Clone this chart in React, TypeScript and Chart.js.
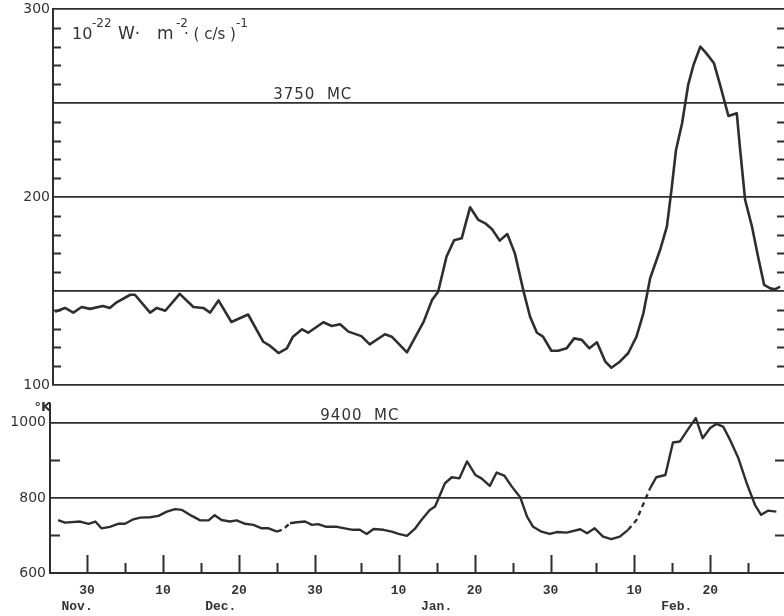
import { useEffect, useRef } from "react";
import { Chart, registerables } from "chart.js";

Chart.register(...registerables);

// ---- Data (days counted from Nov 30 = 0) ----
const flux3750Days = [
  -4.2, -2.9, -1.8, -0.7, 0.4, 2.1, 3.0, 3.9, 5.7, 6.3, 8.3, 9.2, 10.3, 12.2, 14.0, 15.3,
  16.2, 17.3, 19.0, 21.2, 23.2, 24.1, 25.2, 26.3, 27.1, 28.3, 29.1, 31.1, 32.2, 33.3, 34.4,
  36.1, 37.2, 39.2, 40.1, 42.1, 44.3, 45.4, 46.2, 47.3, 48.3, 49.3, 50.4, 51.5, 52.4, 53.3,
  54.3, 55.3, 56.3, 57.4, 58.3, 59.2, 60.0, 61.1, 62.0, 63.1, 64.1, 65.1, 66.1, 67.1, 68.2,
  69.0, 70.1, 71.2, 72.3, 73.2, 74.1, 75.4, 76.3, 76.9, 77.5, 78.3, 79.1, 79.8, 80.7, 81.5,
  82.5, 83.3, 84.4, 85.5, 85.9, 86.6, 87.5, 88.3, 89.1, 89.9, 90.5, 91.2,
];
const flux3750 = [
  139, 141, 138.5, 141.5, 140.5, 142, 141, 144, 148, 148, 138.5, 141, 139.5, 148.5, 141.5, 141,
  138.5, 145, 133.5, 137.5, 123, 120.8, 117, 119.5, 125.7, 129.6, 127.8, 133.4, 131.4, 132.3, 128.4,
  126, 121.6, 127, 125.7, 117.4, 133.7, 145.2, 149.6, 168.2, 177, 178, 194.5, 187.8, 186, 182.8,
  176.8, 180.3, 170, 150.5, 136.3, 127.8, 125.7, 118.2, 118.2, 119.5, 124.8, 124, 119.5, 122.7, 112.4,
  109.2, 112.4, 116.9, 125.7, 138, 156.8, 171.8, 184.2, 203.7, 225, 239.2, 259.6, 270.2, 280, 276.4,
  271.1, 259.6, 243.1, 244.5, 226.8, 198.4, 184.2, 168.2, 153.2, 151.4, 150.9, 152.3,
];

const temp9400Days = [
  -3.8, -2.9, -0.9, 0.2, 1.1, 1.9, 3.0, 4.1, 5.0, 6.1, 7.0, 8.3, 9.4, 10.5, 11.6, 12.5, 13.8,
  14.9, 16.0, 16.8, 17.7, 18.8, 19.7, 20.8, 21.9, 23.0, 23.9, 25.0, 25.8, 26.7, 27.6, 28.7, 29.6,
  30.4, 31.5, 32.9, 33.9, 35.0, 35.9, 36.8, 37.7, 39.0, 40.1, 41.0, 42.1, 43.2, 44.0, 45.1, 45.8,
  47.1, 48.0, 49.0, 50.0, 51.1, 51.9, 53.0, 53.9, 54.9, 55.9, 57.0, 57.9, 58.7, 59.8, 60.9, 61.8,
  63.1, 64.9, 65.8, 66.8, 67.9, 69.0, 70.1, 71.2, 72.3, 73.4, 74.1, 74.9, 76.1, 77.1, 78.0, 79.1,
  80.1, 81.0, 82.0, 82.8, 83.7, 84.6, 85.7, 86.8, 87.9, 88.7, 89.6, 90.7,
];
const temp9400 = [
  741, 734, 737, 731, 737, 719, 723, 731, 731, 743, 747.5, 748.5, 752, 763.5, 770, 768, 752,
  740, 740, 754, 741, 737, 740, 731, 728, 719, 719, 710, 716, 732.5, 735, 737, 728,
  730, 723, 723, 719, 715, 715, 704, 717, 715, 710, 704, 699, 719, 741, 768, 777,
  839, 855, 852, 897, 861, 852, 832, 867.5, 859.5, 830, 802, 750, 723, 710, 704, 709,
  707.5, 716.5, 706, 719, 697, 690, 697, 715, 741, 793, 826, 855, 861, 947.5, 950, 983,
  1012.5, 959, 986, 997, 990, 955, 906, 839, 781, 755, 766, 763.5,
];
const dashed9400 = [
  [25.0, 26.7],
  [71.2, 74.1],
];

const majorTickDays = [0, 10, 20, 30, 41, 51, 61, 72, 82];
const majorTickLabels = ["30", "10", "20", "30", "10", "20", "30", "10", "20"];
const minorTickDays = [5, 15, 25, 36, 46, 56, 67, 77, 87];
const monthLabels = ["Nov.", "Dec.", "Jan.", "Feb."];
const monthLabelDays = [-1.3, 17.6, 46, 77.6];

const fluxTicks = [100, 150, 200, 250, 300];
const fluxLabelled = [100, 200, 300];
const fluxMinor = [110, 120, 130, 140, 160, 170, 180, 190, 210, 220, 230, 240, 260, 270, 280, 290];
const tempTicks = [600, 800, 1000];
const tempMinor = [700, 900];

const INK = "#2e2e2e";
const TXT = "#333333";
const SANS = "'DejaVu Sans', sans-serif";
const MONO = "'Liberation Mono', monospace";

function makeTickPlugin(cfg: {
  yMinor: number[];
  leftLen: number;
  rightLen: number;
  xTicks: boolean;
  extra: (chart: any) => void;
}) {
  return {
    id: "insideTicks",
    afterDraw(chart: any) {
      const ctx = chart.ctx;
      const area = chart.chartArea;
      const ys = chart.scales.y;
      const xs = chart.scales.x;
      ctx.save();
      ctx.strokeStyle = INK;
      ctx.lineWidth = 2;
      ctx.beginPath();
      cfg.yMinor.forEach((v) => {
        const py = Math.round(ys.getPixelForValue(v)) + 0.5;
        ctx.moveTo(area.left, py);
        ctx.lineTo(area.left + cfg.leftLen, py);
        ctx.moveTo(area.right - cfg.rightLen, py);
        ctx.lineTo(area.right, py);
      });
      if (cfg.xTicks) {
        majorTickDays.forEach((d) => {
          const px = Math.round(xs.getPixelForValue(d)) + 0.5;
          ctx.moveTo(px, area.bottom);
          ctx.lineTo(px, area.bottom - 18);
        });
        minorTickDays.forEach((d) => {
          const px = Math.round(xs.getPixelForValue(d)) + 0.5;
          ctx.moveTo(px, area.bottom);
          ctx.lineTo(px, area.bottom - 10);
        });
      }
      ctx.stroke();
      cfg.extra(chart);
      ctx.restore();
    },
  };
}

function drawTopText(chart: any) {
  const ctx = chart.ctx;
  const xs = chart.scales.x;
  const ys = chart.scales.y;
  const left = chart.chartArea.left;
  ctx.fillStyle = TXT;
  ctx.textBaseline = "alphabetic";
  ctx.textAlign = "left";
  const base = 39;
  const sup = 27;
  const parts: [string, number, number, number][] = [
    ["10", 19, base, 16],
    ["-22", 39, sup, 12],
    ["W\u00b7", 65, base, 17],
    ["m", 104, base, 17],
    ["-2", 123, sup, 12],
    ["\u00b7 ( c/s )", 131, base, 15],
    ["-1", 183, sup, 12],
  ];
  parts.forEach(([t, dx, y, size]) => {
    ctx.font = `${size}px ${SANS}`;
    ctx.fillText(t, left + dx, y);
  });
  ctx.font = `15px ${SANS}`;
  (ctx as any).letterSpacing = "1px";
  ctx.fillText("3750  MC", xs.getPixelForValue(24.5), ys.getPixelForValue(250) - 4);
  (ctx as any).letterSpacing = "0px";
}

function drawBottomText(chart: any) {
  const ctx = chart.ctx;
  const xs = chart.scales.x;
  const ys = chart.scales.y;
  const area = chart.chartArea;
  ctx.fillStyle = TXT;
  ctx.font = `15px ${SANS}`;
  (ctx as any).letterSpacing = "1px";
  ctx.textAlign = "left";
  ctx.textBaseline = "alphabetic";
  ctx.fillText("9400  MC", xs.getPixelForValue(30.7), ys.getPixelForValue(1000) - 3);
  (ctx as any).letterSpacing = "0px";
  ctx.font = `bold 13px ${SANS}`;
  ctx.textAlign = "right";
  ctx.textBaseline = "middle";
  ctx.fillText("\u00b0K", area.left + 1, area.top + 4);
  ctx.font = `bold 13px ${MONO}`;
  ctx.textAlign = "center";
  monthLabels.forEach((m, i) => {
    ctx.fillText(m, xs.getPixelForValue(monthLabelDays[i]), area.bottom + 34);
  });
}

const X_MAX = 91.71;

export default function App() {
  const topRef = useRef<HTMLCanvasElement | null>(null);
  const botRef = useRef<HTMLCanvasElement | null>(null);

  useEffect(() => {
    const top = new Chart(topRef.current as HTMLCanvasElement, {
      type: "line",
      data: {
        datasets: [
          {
            data: flux3750Days.map((d, i) => ({ x: d, y: flux3750[i] })),
            borderColor: INK,
            borderWidth: 2.6,
            pointRadius: 0,
            tension: 0,
            fill: false,
            borderJoinStyle: "round",
          },
        ],
      },
      options: {
        animation: false,
        responsive: false,
        events: [],
        layout: { padding: { top: 9, bottom: 9, left: 0, right: 0 } },
        plugins: { legend: { display: false }, tooltip: { enabled: false } },
        scales: {
          x: { type: "linear", display: false, min: -4.474, max: X_MAX },
          y: {
            type: "linear",
            min: 100,
            max: 300,
            afterBuildTicks: (s: any) => {
              s.ticks = fluxTicks.map((v) => ({ value: v }));
            },
            afterFit: (s: any) => {
              s.width = 53;
            },
            ticks: {
              callback: (v: any) => (fluxLabelled.includes(Number(v)) ? String(v) : ""),
              font: { family: SANS, size: 14, lineHeight: 0.7 },
              color: TXT,
              padding: 3,
            },
            grid: { color: INK, lineWidth: 1.8, drawTicks: false },
            border: { display: true, color: INK, width: 2 },
          },
        },
      } as any,
      plugins: [
        makeTickPlugin({ yMinor: fluxMinor, leftLen: 8, rightLen: 7, xTicks: false, extra: drawTopText }),
      ],
    });

    const bot = new Chart(botRef.current as HTMLCanvasElement, {
      type: "line",
      data: {
        datasets: [
          {
            data: temp9400Days.map((d, i) => ({ x: d, y: temp9400[i] })),
            borderColor: INK,
            borderWidth: 2.4,
            pointRadius: 0,
            tension: 0,
            fill: false,
            borderJoinStyle: "round",
            segment: {
              borderDash: (c: any) => {
                const a = c.p0.parsed.x;
                const b = c.p1.parsed.x;
                return dashed9400.some(([s, e]) => a >= s - 0.01 && b <= e + 0.01) ? [5, 4] : undefined;
              },
            },
          },
        ],
      },
      options: {
        animation: false,
        responsive: false,
        events: [],
        layout: { padding: { top: 8, bottom: 0, left: 0, right: 0 } },
        plugins: { legend: { display: false }, tooltip: { enabled: false } },
        scales: {
          x: {
            type: "linear",
            min: -4.868,
            max: X_MAX,
            afterBuildTicks: (s: any) => {
              s.ticks = majorTickDays.map((v) => ({ value: v }));
            },
            afterFit: (s: any) => {
              s.height = 43;
            },
            ticks: {
              autoSkip: false,
              maxRotation: 0,
              callback: (_v: any, i: number) => majorTickLabels[i],
              font: { family: MONO, size: 13, weight: "bold" },
              color: TXT,
              padding: 10,
            },
            grid: { drawOnChartArea: false, drawTicks: false },
            border: { display: true, color: INK, width: 2 },
          },
          y: {
            type: "linear",
            min: 600,
            max: 1050,
            afterBuildTicks: (s: any) => {
              s.ticks = tempTicks.map((v) => ({ value: v }));
            },
            afterFit: (s: any) => {
              s.width = 50;
            },
            ticks: {
              callback: (v: any) => String(v),
              font: { family: SANS, size: 14, lineHeight: 0.5 },
              color: TXT,
              padding: 4,
            },
            grid: { color: INK, lineWidth: 1.8, drawTicks: false },
            border: { display: true, color: INK, width: 2 },
          },
        },
      } as any,
      plugins: [
        makeTickPlugin({ yMinor: tempMinor, leftLen: 10, rightLen: 9, xTicks: true, extra: drawBottomText }),
      ],
    });

    return () => {
      top.destroy();
      bot.destroy();
    };
  }, []);

  return (
    <div style={{ position: "fixed", left: 0, top: 0, width: 784, height: 616, background: "#ffffff" }}>
      <canvas ref={topRef} width={784} height={394} style={{ position: "absolute", left: 0, top: 0, display: "block" }} />
      <canvas ref={botRef} width={784} height={220} style={{ position: "absolute", left: 0, top: 396, display: "block" }} />
    </div>
  );
}
